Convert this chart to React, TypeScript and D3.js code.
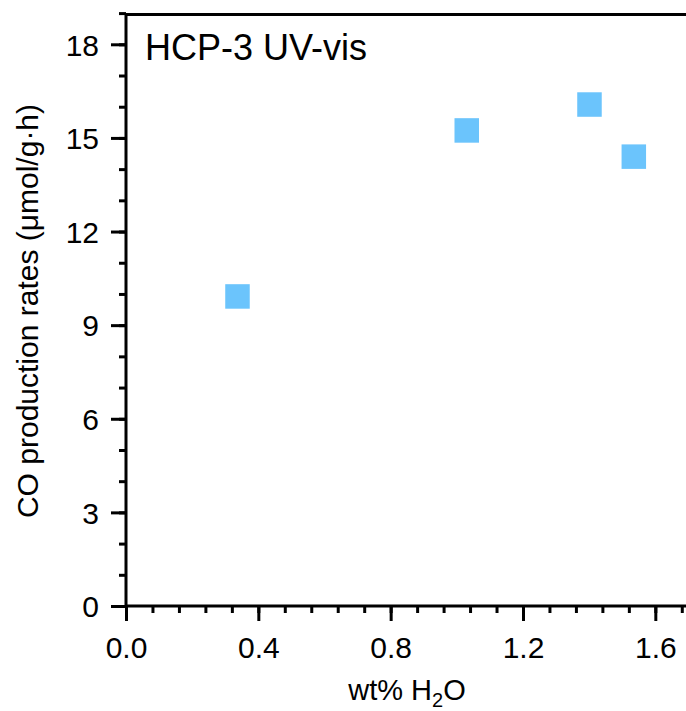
import React, { useEffect, useRef } from "react";
import * as d3 from "d3";

// values
const waterWt = [0.337, 1.03, 1.401, 1.535];
const coRates = [9.92, 15.24, 16.07, 14.4];
const xTicks = [0, 0.4, 0.8, 1.2, 1.6];
const xTickLabels = ["0.0", "0.4", "0.8", "1.2", "1.6"];
const yTicks = [0, 3, 6, 9, 12, 15, 18];
const yTickLabels = ["0", "3", "6", "9", "12", "15", "18"];
const xMinor = d3.range(0, 1.70001, 0.08);
const yMinor = d3.range(0, 19.0001, 1);

const W = 686;
const H = 711;
const FONT = "'Liberation Sans', Arial, Helvetica, sans-serif";

export default function App() {
  const ref = useRef<SVGGElement>(null);

  useEffect(() => {
    const g = d3.select(ref.current);
    g.selectAll("*").remove();

    const x = d3.scaleLinear().domain([0, 1.7]).range([126, 688.4]);
    const y = d3.scaleLinear().domain([0, 19]).range([606, 13.1]);

    // minor ticks
    g.append("g")
      .attr("transform", `translate(0,${y(0)})`)
      .call(d3.axisBottom(x).tickValues(xMinor).tickSize(7).tickFormat(() => "").tickSizeOuter(0))
      .call((s) => s.select(".domain").remove());
    g.append("g")
      .attr("transform", `translate(${x(0)},0)`)
      .call(d3.axisLeft(y).tickValues(yMinor).tickSize(7).tickFormat(() => "").tickSizeOuter(0))
      .call((s) => s.select(".domain").remove());

    // major ticks + labels
    const xa = g.append("g")
      .attr("transform", `translate(0,${y(0)})`)
      .call(
        d3.axisBottom(x).tickValues(xTicks).tickSize(15).tickSizeOuter(0)
          .tickFormat((d, i) => xTickLabels[i])
      );
    xa.select(".domain").remove();
    xa.selectAll("text").attr("dy", null).attr("y", 52);

    const ya = g.append("g")
      .attr("transform", `translate(${x(0)},0)`)
      .call(
        d3.axisLeft(y).tickValues(yTicks).tickSize(15).tickSizeOuter(0)
          .tickFormat((d, i) => yTickLabels[i])
      );
    ya.select(".domain").remove();
    ya.selectAll("text").attr("x", -27).attr("dy", "0.36em");

    g.selectAll(".tick line").attr("stroke", "#000").attr("stroke-width", 3);
    g.selectAll(".tick text")
      .attr("fill", "#000")
      .style("font-family", FONT)
      .style("font-size", "30px");

    // frame (left, bottom, top; right edge falls off the picture)
    g.append("path")
      .attr("d", `M${x(1.7) + 2},${y(19) + 1.5}H${x(0)}V${y(0)}H${x(1.7) + 2}`)
      .attr("fill", "none")
      .attr("stroke", "#000")
      .attr("stroke-width", 3);

    // points
    const sz = 24.5;
    g.selectAll("rect.pt")
      .data(waterWt.map((w, i) => [w, coRates[i]]))
      .enter()
      .append("rect")
      .attr("class", "pt")
      .attr("x", (d) => x(d[0]) - sz / 2)
      .attr("y", (d) => y(d[1]) - sz / 2)
      .attr("width", sz)
      .attr("height", sz)
      .attr("fill", "#6bc4fc");
  }, []);

  return (
    <svg
      width={W}
      height={H}
      style={{ position: "absolute", left: 0, top: 0, background: "#fff" }}
      fontFamily={FONT}
    >
      <g ref={ref} />
      <text x={145} y={60} fontSize={36} fill="#000">HCP-3 UV-vis</text>
      <text x={407} y={700} fontSize={29} textAnchor="middle" fill="#000">
        wt% H<tspan fontSize={20} dy={7}>2</tspan><tspan dy={-7}>O</tspan>
      </text>
      <text
        transform="translate(38,311) rotate(-90)"
        fontSize={30}
        textAnchor="middle"
        fill="#000"
      >
        CO production rates (μmol/g·h)
      </text>
    </svg>
  );
}
